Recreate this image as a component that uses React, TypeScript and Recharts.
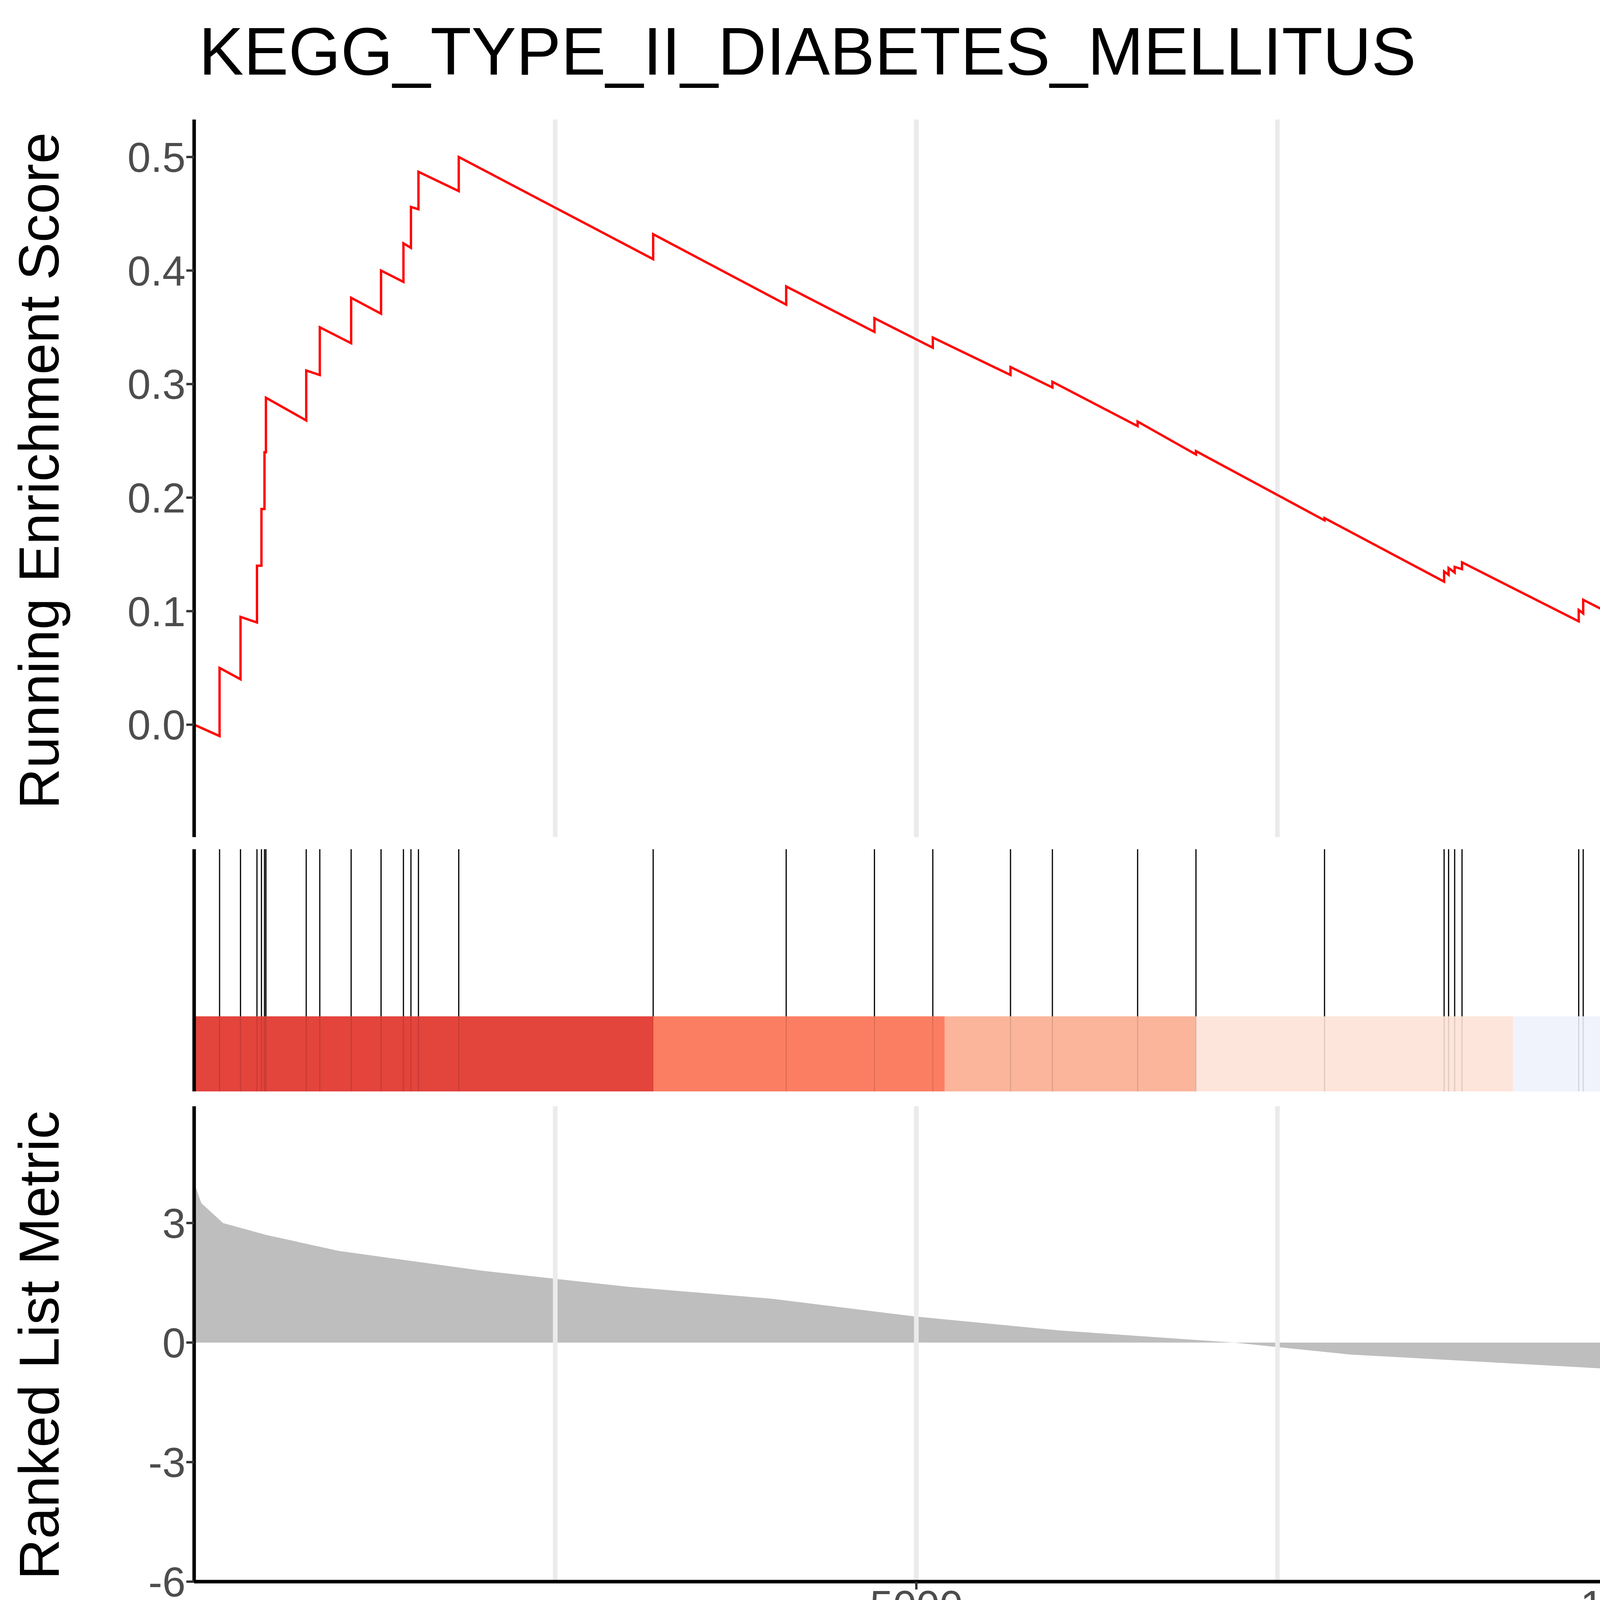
import React from "react";
import { ComposedChart, Line, Area, XAxis, YAxis, ReferenceLine, ReferenceArea } from "recharts";

const N = 14750;
const hits = [176,321,435,466,487,497,776,870,1087,1294,1449,1501,1553,1832,3178,4099,4710,5114,5652,5942,6532,6936,7826,8654,8685,8727,8778,9586,9617,10694,10828,11615,11884,13023,13468,14679];
const esBefore = [-0.01,0.04,0.09,0.14,0.19,0.24,0.268,0.308,0.336,0.362,0.39,0.42,0.454,0.47,0.41,0.37,0.346,0.332,0.308,0.297,0.263,0.238,0.18,0.126,0.132,0.134,0.137,0.091,0.098,0.04,0.048,0.013,0.02,-0.033,-0.027,-0.07];
const esAfter = [0.05,0.095,0.14,0.19,0.24,0.288,0.312,0.35,0.376,0.4,0.424,0.456,0.487,0.5,0.432,0.386,0.358,0.341,0.315,0.302,0.267,0.241,0.182,0.135,0.138,0.139,0.143,0.101,0.11,0.056,0.066,0.037,0.043,0.003,0.013,0.004];
const metricRank = [0,50,200,500,1000,2000,3000,4000,5000,6000,7200,8000,9000,10000,11000,12000,13000,13800,14300,14600,14700,14750];
const metricVal = [4.0,3.5,3.0,2.7,2.3,1.8,1.4,1.1,0.65,0.3,0,-0.3,-0.5,-0.7,-1.0,-1.4,-1.8,-2.3,-3.0,-4.0,-4.6,-5.5];
const bandEdges = [0,3178,5197,6936,9130,11594,13468,14275,14580,14750];
const bandColors = ["#E3443C","#FC7E62","#FBB59B","#FEE5DB","#F0F3FC","#C4DBE8","#7AB4D8","#4489C4","#1F5FA5"];
const gridX = [2500,5000,7500,10000,12500];
const xTicks = [5000,10000];
const esTicks = [0,0.1,0.2,0.3,0.4,0.5];
const metricTicks = [-6,-3,0,3];

const esData: { x: number; y: number }[] = [{ x: 0, y: 0 }];
hits.forEach((h, i) => { esData.push({ x: h, y: esBefore[i] }); esData.push({ x: h, y: esAfter[i] }); });
esData.push({ x: N, y: 0 });
const metricData = metricRank.map((r, i) => ({ x: r, y: metricVal[i] }));
const midData = [{ x: 0, y: 0 }, { x: N, y: 1 }];

const FONT = "Liberation Sans, Arial, sans-serif";
const tickStyle = { fontSize: 107, fill: "#4D4D4D", fontFamily: FONT };
const margin = { top: 0, right: 49, left: 0, bottom: 0 };
const grid = gridX.map((g) => <ReferenceLine key={"g" + g} x={g} stroke="#EBEBEB" strokeWidth={12} />);

export default function App() {
  return (
    <div style={{ position: "absolute", left: 0, top: 0, width: 6000, height: 4500, background: "white", fontFamily: FONT, overflow: "hidden" }}>
      <div style={{ position: "absolute", left: 0, top: 306 }}>
        <ComposedChart width={6000} height={1837} data={esData} margin={margin}>
          <XAxis type="number" dataKey="x" domain={[0, N]} hide />
          {grid}
          <YAxis type="number" domain={[-0.099, 0.533]} ticks={esTicks} allowDataOverflow width={497}
            tick={tickStyle} tickFormatter={(v) => v.toFixed(1)} axisLine={{ stroke: "black", strokeWidth: 9 }}
            tickLine={{ stroke: "#333", strokeWidth: 6 }} tickSize={20} />
          <Line type="linear" dataKey="y" stroke="#FF0000" strokeWidth={6} dot={false} isAnimationActive={false} />
        </ComposedChart>
      </div>
      <div style={{ position: "absolute", left: 0, top: 2174 }}>
        <ComposedChart width={6000} height={620} data={midData} margin={margin}>
          <XAxis type="number" dataKey="x" domain={[0, N]} hide />
          <YAxis type="number" dataKey="y" domain={[0, 1]} width={497} tick={false} tickLine={false} axisLine={{ stroke: "black", strokeWidth: 9 }} />
          <Line type="linear" dataKey="y" stroke="none" dot={false} isAnimationActive={false} />
          {bandColors.map((c, i) => (
            <ReferenceArea key={"b" + i} x1={bandEdges[i]} x2={bandEdges[i + 1]} y1={0} y2={0.31} fill={c} fillOpacity={1} stroke="none" ifOverflow="visible" />
          ))}
          {hits.map((h) => (
            <ReferenceLine key={"h" + h} segment={[{ x: h, y: 0.31 }, { x: h, y: 1 }]} stroke="black" strokeWidth={3} ifOverflow="visible" />
          ))}
          {hits.map((h) => (
            <ReferenceLine key={"hb" + h} segment={[{ x: h, y: 0 }, { x: h, y: 0.31 }]} stroke="black" strokeWidth={3} strokeOpacity={0.12} ifOverflow="visible" />
          ))}
        </ComposedChart>
      </div>
      <div style={{ position: "absolute", left: 0, top: 2832 }}>
        <ComposedChart width={6000} height={1467} data={metricData} margin={margin}>
          <XAxis type="number" dataKey="x" domain={[0, N]} ticks={xTicks} interval={0} height={250}
            tick={tickStyle} axisLine={{ stroke: "black", strokeWidth: 9 }} tickLine={{ stroke: "#333", strokeWidth: 6 }} tickSize={20} />
          {grid}
          <YAxis type="number" domain={[-6, 5.93]} ticks={metricTicks} allowDataOverflow width={497}
            tick={tickStyle} axisLine={{ stroke: "black", strokeWidth: 9 }} tickLine={{ stroke: "#333", strokeWidth: 6 }} tickSize={20} />
          <Area type="linear" dataKey="y" baseValue={0} stroke="none" fill="#BEBEBE" fillOpacity={1} isAnimationActive={false} />
        </ComposedChart>
      </div>
      <svg width={6000} height={4500} style={{ position: "absolute", left: 0, top: 0, pointerEvents: "none" }}>
        <text x={509} y={191} fontSize={172} fontFamily={FONT} fill="black">KEGG_TYPE_II_DIABETES_MELLITUS</text>
        <text transform="translate(150,1205) rotate(-90)" textAnchor="middle" fontSize={145} fontFamily={FONT} fill="black">Running Enrichment Score</text>
        <text transform="translate(150,3444) rotate(-90)" textAnchor="middle" fontSize={145} fontFamily={FONT} fill="black">Ranked List Metric</text>
        <text x={3226} y={4409} textAnchor="middle" fontSize={145} fontFamily={FONT} fill="black">Rank in Ordered Dataset</text>
      </svg>
    </div>
  );
}
